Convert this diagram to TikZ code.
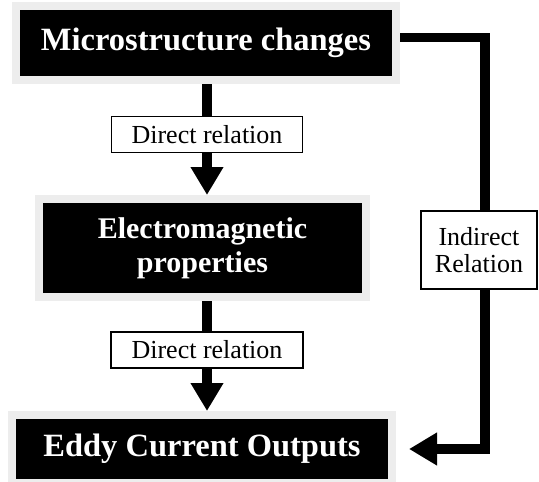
\documentclass[tikz,border=0pt]{standalone}
\usepackage{fontspec}
\setmainfont{Liberation Serif}
\usetikzlibrary{arrows.meta,positioning}

\begin{document}
\begin{tikzpicture}[x=1pt,y=-1pt,
 box/.style={fill=black,draw=black!7,line width=8pt,text=white,align=center,inner sep=0pt,font=\bfseries},
 rel/.style={draw,fill=white,line width=1.6pt,align=center,inner sep=0pt,font=\fontsize{26}{27}\selectfont},
 lnk/.style={line width=9.5pt},
 arr/.style={lnk,-{Triangle[length=28pt,width=31pt]}}]
 \useasboundingbox (0,0) rectangle (539,482);
 \node[box,minimum width=380pt,minimum height=74pt,font=\fontsize{32.5}{34}\selectfont\bfseries] (micro) at (206,43) {Microstructure changes};
 \node[rel,minimum width=191pt,minimum height=36pt] (rel1) at (207,134.5) {Direct relation};
 \node[box,minimum width=327pt,minimum height=98pt,font=\fontsize{30}{34}\selectfont\bfseries] (em) at (202.5,248) {Electromagnetic\\ properties};
 \node[rel,minimum width=192pt,minimum height=36pt] (rel2) at (207,350) {Direct relation};
 \node[box,minimum width=380pt,minimum height=68pt,font=\fontsize{32.5}{34}\selectfont\bfseries] (eddy) at (202,449) {Eddy Current Outputs};
 \node[rel,minimum width=116pt,minimum height=78pt] (ind) at (479,250) {Indirect\\ Relation};
 \draw[lnk] (rel1.north |- micro.south) -- (rel1.north);
 \draw[arr] (rel1.south) -- (rel1.south |- em.north);
 \draw[lnk] (rel2.north |- em.south) -- (rel2.north);
 \draw[arr] (rel2.south) -- (rel2.south |- eddy.north);
 \draw[lnk] ([yshift=5.5pt]micro.east) -| ([xshift=6pt]ind.north);
 \draw[arr,shorten >=13pt] ([xshift=6pt]ind.south) |- (eddy.east);
\end{tikzpicture}
\end{document}
